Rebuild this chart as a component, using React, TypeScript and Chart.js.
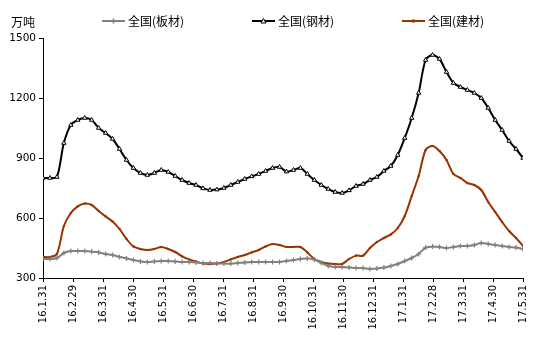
import { useEffect, useRef } from "react";
import { Chart, registerables } from "chart.js";

Chart.register(...registerables);

const monthLabels = [
  "16.1.31", "16.2.29", "16.3.31", "16.4.30", "16.5.31", "16.6.30", "16.7.31", "16.8.31",
  "16.9.30", "16.10.31", "16.11.30", "16.12.31", "17.1.31", "17.2.28", "17.3.31", "17.4.30", "17.5.31",
];
const yTickValues = [300, 600, 900, 1200, 1500];
const unitLabel = "万吨";
const seriesNames = ["全国(板材)", "全国(钢材)", "全国(建材)"];

// 全国(板材)
const plate = [
  395, 395, 400, 425, 435, 435, 435, 432, 428, 420,
  415, 405, 398, 390, 383, 380, 383, 385, 385, 383,
  380, 380, 378, 375, 375, 373, 372, 372, 375, 378,
  380, 380, 380, 380, 380, 385, 390, 395, 398, 392,
  375, 360, 355, 355, 353, 350, 350, 345, 347, 352,
  360, 370, 385, 400, 420, 452, 457, 455, 450, 455,
  460, 460, 465, 475, 470, 465, 460, 455, 452, 445,
];
// 全国(钢材)
const steel = [
  800, 800, 805, 975, 1065, 1090, 1100, 1090, 1050, 1025,
  995, 945, 890, 850, 825, 815, 825, 840, 830, 810,
  790, 775, 765, 748, 740, 742, 750, 765, 780, 795,
  808, 820, 835, 850, 855, 832, 840, 850, 820, 790,
  765, 745, 730, 725, 738, 760, 770, 790, 805, 835,
  860, 915, 1000, 1100, 1225, 1390, 1415, 1395, 1330, 1275,
  1255, 1240, 1225, 1200, 1150, 1090, 1040, 985, 945, 900,
];
// 全国(建材)
const rebar = [
  405, 405, 420, 560, 625, 658, 672, 665, 635, 608,
  582, 545, 495, 458, 445, 440, 445, 455, 445, 430,
  408, 393, 382, 372, 370, 372, 380, 393, 405, 415,
  428, 440, 458, 470, 465, 455, 455, 455, 428, 395,
  380, 372, 370, 370, 395, 412, 412, 450, 480, 500,
  518, 550, 610, 710, 810, 940, 960, 935, 890, 820,
  800, 775, 765, 740, 680, 630, 580, 535, 500, 460,
];

const GRAY = "#808080";
const BLACK = "#000000";
const BROWN = "#993300";

function toPoints(arr: number[]) {
  return arr.map((v, i) => ({ x: i, y: v }));
}

function drawMarker(ctx: CanvasRenderingContext2D, style: string, x: number, y: number, color: string) {
  ctx.save();
  ctx.lineWidth = 1;
  if (style === "triangle") {
    const r = 2.5;
    ctx.beginPath();
    ctx.moveTo(x, y - r);
    ctx.lineTo(x + r, y + r * 0.8);
    ctx.lineTo(x - r, y + r * 0.8);
    ctx.closePath();
    ctx.fillStyle = "#fff";
    ctx.fill();
    ctx.strokeStyle = color;
    ctx.stroke();
  } else if (style === "cross") {
    ctx.strokeStyle = color;
    ctx.lineWidth = 1.5;
    ctx.beginPath();
    ctx.moveTo(x - 2.5, y);
    ctx.lineTo(x + 2.5, y);
    ctx.moveTo(x, y - 2.5);
    ctx.lineTo(x, y + 2.5);
    ctx.stroke();
  } else {
    ctx.fillStyle = color;
    ctx.fillRect(x - 1.5, y - 1.5, 3, 3);
  }
  ctx.restore();
}

const legendPlugin = {
  id: "customLegend",
  afterDraw(chart: any) {
    const ctx: CanvasRenderingContext2D = chart.ctx;
    ctx.save();
    const styles = ["cross", "triangle", "rect"];
    chart.data.datasets.forEach((ds: any, i: number) => {
      const x0 = 102 + i * 150;
      const y = 21;
      ctx.strokeStyle = ds.borderColor;
      ctx.lineWidth = 2;
      ctx.beginPath();
      ctx.moveTo(x0, y);
      ctx.lineTo(x0 + 23, y);
      ctx.stroke();
      drawMarker(ctx, styles[i], x0 + 11.5, y, ds.borderColor);
      ctx.fillStyle = "#000";
      ctx.font = '12px "Noto Sans CJK SC"';
      ctx.textBaseline = "middle";
      ctx.textAlign = "left";
      ctx.fillText(ds.label, x0 + 26, y);
    });
    ctx.font = '12px "Noto Sans CJK SC"';
    ctx.textBaseline = "middle";
    ctx.textAlign = "left";
    ctx.fillStyle = "#000";
    ctx.fillText(unitLabel, 11, 22);
    ctx.restore();
  },
};

export default function App() {
  const canvasRef = useRef<HTMLCanvasElement | null>(null);

  useEffect(() => {
    if (!canvasRef.current) return;
    const n = plate.length;
    const chart = new Chart(canvasRef.current, {
      type: "line",
      data: {
        datasets: [
          {
            label: seriesNames[0],
            data: toPoints(plate),
            borderColor: GRAY,
            backgroundColor: GRAY,
            borderWidth: 2,
            pointStyle: "cross",
            pointRadius: 2.5,
            pointBorderWidth: 1.2,
            pointBorderColor: GRAY,
            tension: 0.3,
          },
          {
            label: seriesNames[1],
            data: toPoints(steel),
            borderColor: BLACK,
            backgroundColor: "#ffffff",
            borderWidth: 2,
            pointStyle: "triangle",
            pointRadius: 2.5,
            pointBorderWidth: 1,
            pointBorderColor: BLACK,
            pointBackgroundColor: "#ffffff",
            tension: 0.3,
          },
          {
            label: seriesNames[2],
            data: toPoints(rebar),
            borderColor: BROWN,
            backgroundColor: BROWN,
            borderWidth: 2,
            pointStyle: "rect",
            pointRadius: 1.5,
            pointBorderWidth: 0,
            pointBackgroundColor: BROWN,
            tension: 0.3,
          },
        ],
      },
      options: {
        animation: false,
        responsive: false,
        maintainAspectRatio: false,
        layout: { padding: { top: 38, right: 27, left: 0, bottom: 0 } },
        plugins: {
          legend: { display: false },
          tooltip: { enabled: false },
        },
        scales: {
          x: {
            type: "linear",
            min: 0,
            max: n - 1,
            afterBuildTicks: (scale: any) => {
              scale.ticks = monthLabels.map((_, k) => ({
                value: (k * (n - 1)) / (monthLabels.length - 1),
              }));
            },
            afterFit: (scale: any) => {
              scale.height = 74;
            },
            ticks: {
              autoSkip: false,
              maxRotation: 90,
              minRotation: 90,
              padding: 3,
              color: "#000",
              font: { family: '"DejaVu Sans"', size: 10 },
              callback: (_v: any, idx: number) => monthLabels[idx],
            },
            grid: {
              display: true,
              drawOnChartArea: false,
              drawTicks: true,
              tickLength: 4,
              color: "#000",
            },
            border: { display: true, color: "#000", width: 1 },
          },
          y: {
            type: "linear",
            min: yTickValues[0],
            max: yTickValues[yTickValues.length - 1],
            afterBuildTicks: (scale: any) => {
              scale.ticks = yTickValues.map((v) => ({ value: v }));
            },
            afterFit: (scale: any) => {
              scale.width = 43;
            },
            ticks: {
              padding: 3,
              color: "#000",
              font: { family: '"DejaVu Sans"', size: 10.5 },
              callback: (v: any) => String(v),
            },
            grid: {
              display: true,
              drawOnChartArea: false,
              drawTicks: true,
              tickLength: 4,
              color: "#000",
            },
            border: { display: true, color: "#000", width: 1 },
          },
        },
      },
      plugins: [legendPlugin],
    });
    return () => chart.destroy();
  }, []);

  return (
    <div style={{ position: "absolute", left: 0, top: 0, width: 550, height: 352, background: "#fff" }}>
      <canvas ref={canvasRef} width={550} height={352} />
    </div>
  );
}
